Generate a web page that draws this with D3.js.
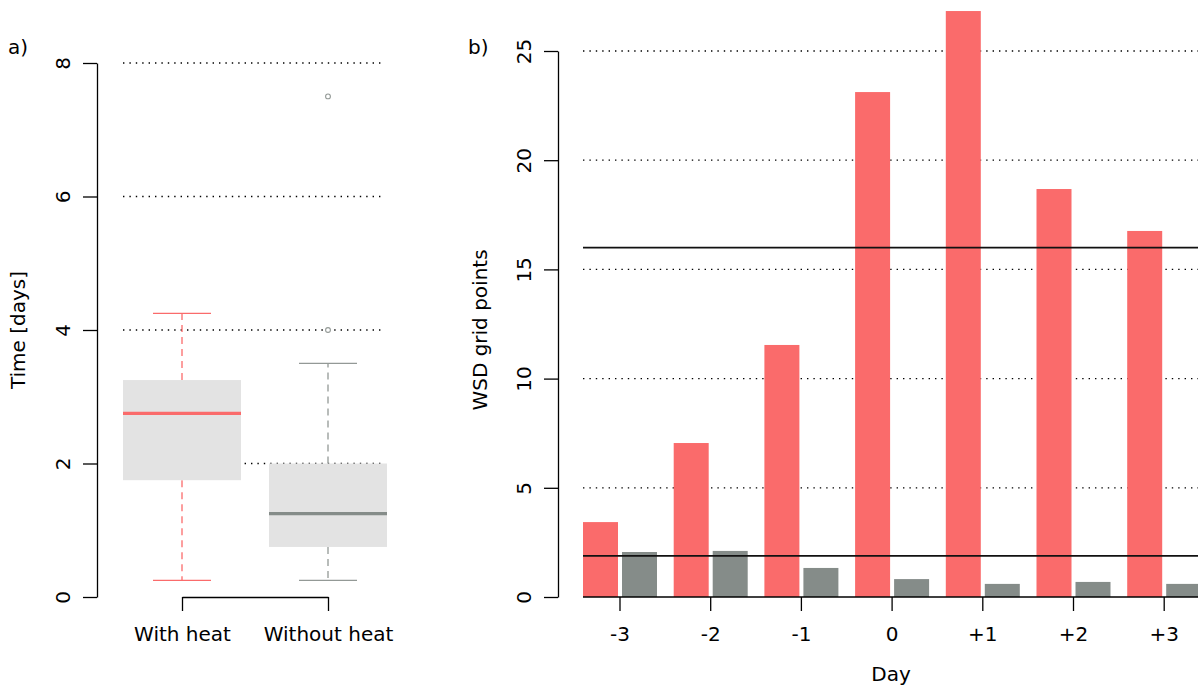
<!DOCTYPE html>
<html>
<head>
<meta charset="utf-8">
<script src="https://cdn.jsdelivr.net/npm/d3@7"></script>
<style>
  html, body { margin: 0; padding: 0; background: #fff; }
  svg { display: block; font-family: "DejaVu Sans", sans-serif; }
  text { fill: #000; }
</style>
</head>
<body>
<svg id="chart" width="1198" height="686"></svg>
<script>
// ---- Panel a: duration of events (box plot summaries) ----
const boxGroups = ["With heat", "Without heat"];
// [lower whisker, Q1, median, Q3, upper whisker]
const withHeatStats = [0.25, 1.75, 2.75, 3.25, 4.25];
const withoutHeatStats = [0.25, 0.75, 1.25, 2.0, 3.5];
const withHeatOutliers = [];
const withoutHeatOutliers = [4.0, 7.5];
const timeTicks = [0, 2, 4, 6, 8];

// ---- Panel b: WSD grid points per day ----
const days = ["-3", "-2", "-1", "0", "+1", "+2", "+3"];
const wsdWithHeat = [3.43, 7.05, 11.54, 23.12, 26.83, 18.68, 16.76];
const wsdWithoutHeat = [2.06, 2.11, 1.33, 0.82, 0.60, 0.69, 0.60];
const wsdTicks = [0, 5, 10, 15, 20, 25];
const referenceLevels = [16.0, 1.88];

const RED = "#FA6B6B";
const GREY = "#858C89";
const GREY_WHISKER = "#939996";
const BOX_FILL = "#E3E3E3";

const svg = d3.select("#chart");
const W = 1198;
const base = 597;

function styleLeftAxis(g) {
  g.select(".domain").attr("stroke", "#000").attr("stroke-width", 1.3);
  g.selectAll(".tick line").attr("stroke", "#000").attr("stroke-width", 1.3);
  g.selectAll(".tick text")
    .attr("transform", "rotate(-90)")
    .attr("x", 0).attr("y", -27).attr("dy", 0)
    .attr("text-anchor", "middle")
    .style("font-size", "20px")
    .style("font-family", "DejaVu Sans");
}

// ================= Panel a =================
const yA = d3.scaleLinear().domain([0, 8]).range([base, 63]);
const xA = d3.scalePoint().domain(boxGroups).range([182, 328]);
const boxHalf = 59, capHalf = 29;

const pa = svg.append("g");

// dotted reference grid
pa.append("g").selectAll("line").data(timeTicks.filter(d => d > 0)).join("line")
  .attr("x1", 123).attr("x2", 385)
  .attr("y1", d => yA(d)).attr("y2", d => yA(d))
  .attr("stroke", "#000").attr("stroke-width", 1.3)
  .attr("stroke-dasharray", "1.4 5");

const boxes = [
  { name: boxGroups[0], s: withHeatStats, out: withHeatOutliers, col: RED, wcol: RED },
  { name: boxGroups[1], s: withoutHeatStats, out: withoutHeatOutliers, col: GREY, wcol: GREY_WHISKER }
];

boxes.forEach(b => {
  const cx = xA(b.name);
  const [lo, q1, med, q3, hi] = b.s;
  const g = pa.append("g");
  // whiskers
  g.append("line").attr("x1", cx).attr("x2", cx).attr("y1", yA(q3)).attr("y2", yA(hi))
    .attr("stroke", b.wcol).attr("stroke-width", 1.3).attr("stroke-dasharray", "7 5");
  g.append("line").attr("x1", cx).attr("x2", cx).attr("y1", yA(q1)).attr("y2", yA(lo))
    .attr("stroke", b.wcol).attr("stroke-width", 1.3).attr("stroke-dasharray", "7 5");
  // caps
  [lo, hi].forEach(v => g.append("line")
    .attr("x1", cx - capHalf).attr("x2", cx + capHalf)
    .attr("y1", yA(v)).attr("y2", yA(v))
    .attr("stroke", b.wcol).attr("stroke-width", 1.3));
  // box
  g.append("rect").attr("x", cx - boxHalf).attr("width", boxHalf * 2)
    .attr("y", yA(q3)).attr("height", yA(q1) - yA(q3)).attr("fill", BOX_FILL);
  // median
  g.append("line").attr("x1", cx - boxHalf).attr("x2", cx + boxHalf)
    .attr("y1", yA(med)).attr("y2", yA(med))
    .attr("stroke", b.col).attr("stroke-width", 3.3);
  // outliers
  g.selectAll("circle").data(b.out).join("circle")
    .attr("cx", cx).attr("cy", d => yA(d)).attr("r", 2.4)
    .attr("fill", "#fff").attr("stroke", b.wcol).attr("stroke-width", 1.1);
});

pa.append("g").attr("transform", "translate(97,0)")
  .call(d3.axisLeft(yA).tickValues(timeTicks).tickFormat(d3.format("d")).tickSize(14).tickSizeOuter(0))
  .call(styleLeftAxis);

const axA = pa.append("g").attr("transform", `translate(0,${base})`)
  .call(d3.axisBottom(xA).tickSize(14).tickSizeOuter(0));
axA.select(".domain").attr("stroke", "#000").attr("stroke-width", 1.3);
axA.selectAll(".tick line").attr("stroke", "#000").attr("stroke-width", 1.3);
axA.selectAll(".tick text").attr("y", 44).attr("dy", 0)
  .style("font-size", "20px").style("font-family", "DejaVu Sans");

pa.append("text").attr("transform", "translate(25,330) rotate(-90)")
  .attr("text-anchor", "middle").style("font-size", "20px").text("Time [days]");
pa.append("text").attr("x", 8).attr("y", 54).style("font-size", "20px").text("a)");

// ================= Panel b =================
const yB = d3.scaleLinear().domain([0, 25]).range([base, 51]);
const x0 = d3.scaleBand().domain(days).range([574.65, 574.65 + 7 * 90.7]).padding(0);
const x1 = d3.scaleBand().domain(["heat", "noheat"]).range([-37, 37]).paddingInner(0.1026).paddingOuter(0);
const plotLeft = x0(days[0]) + x0.bandwidth() / 2 + x1("heat");

const pb = svg.append("g");

// dotted grid
pb.append("g").selectAll("line").data(wsdTicks.filter(d => d > 0)).join("line")
  .attr("x1", plotLeft).attr("x2", W)
  .attr("y1", d => yB(d)).attr("y2", d => yB(d))
  .attr("stroke", "#000").attr("stroke-width", 1.3)
  .attr("stroke-dasharray", "1.4 5");

const rows = days.map((d, i) => ({ day: d, heat: wsdWithHeat[i], noheat: wsdWithoutHeat[i] }));
pb.append("g").selectAll("g").data(rows).join("g")
  .attr("transform", d => `translate(${x0(d.day) + x0.bandwidth() / 2},0)`)
  .selectAll("rect")
  .data(d => [{ k: "heat", v: d.heat }, { k: "noheat", v: d.noheat }])
  .join("rect")
  .attr("x", d => x1(d.k))
  .attr("width", x1.bandwidth())
  .attr("y", d => yB(d.v))
  .attr("height", d => yB(0) - yB(d.v))
  .attr("fill", d => d.k === "heat" ? RED : GREY);

// reference levels
pb.append("g").selectAll("line").data(referenceLevels).join("line")
  .attr("x1", plotLeft).attr("x2", W)
  .attr("y1", d => yB(d)).attr("y2", d => yB(d))
  .attr("stroke", "#111").attr("stroke-width", 1.7);

// baseline
pb.append("line").attr("x1", plotLeft).attr("x2", W)
  .attr("y1", yB(0)).attr("y2", yB(0))
  .attr("stroke", "#000").attr("stroke-width", 1.3);

pb.append("g").attr("transform", "translate(558,0)")
  .call(d3.axisLeft(yB).tickValues(wsdTicks).tickFormat(d3.format("d")).tickSize(14).tickSizeOuter(0))
  .call(styleLeftAxis);

const axB = pb.append("g").attr("transform", `translate(0,${base})`)
  .call(d3.axisBottom(x0).tickSize(14).tickSizeOuter(0));
axB.select(".domain").remove();
axB.selectAll(".tick line").attr("stroke", "#000").attr("stroke-width", 1.3);
axB.selectAll(".tick text").attr("y", 44).attr("dy", 0)
  .style("font-size", "20px").style("font-family", "DejaVu Sans");

pb.append("text").attr("transform", "translate(487,330) rotate(-90)")
  .attr("text-anchor", "middle").style("font-size", "20px").text("WSD grid points");
pb.append("text").attr("x", 891).attr("y", 681).attr("text-anchor", "middle")
  .style("font-size", "20px").text("Day");
pb.append("text").attr("x", 468).attr("y", 54).style("font-size", "20px").text("b)");
</script>
</body>
</html>
